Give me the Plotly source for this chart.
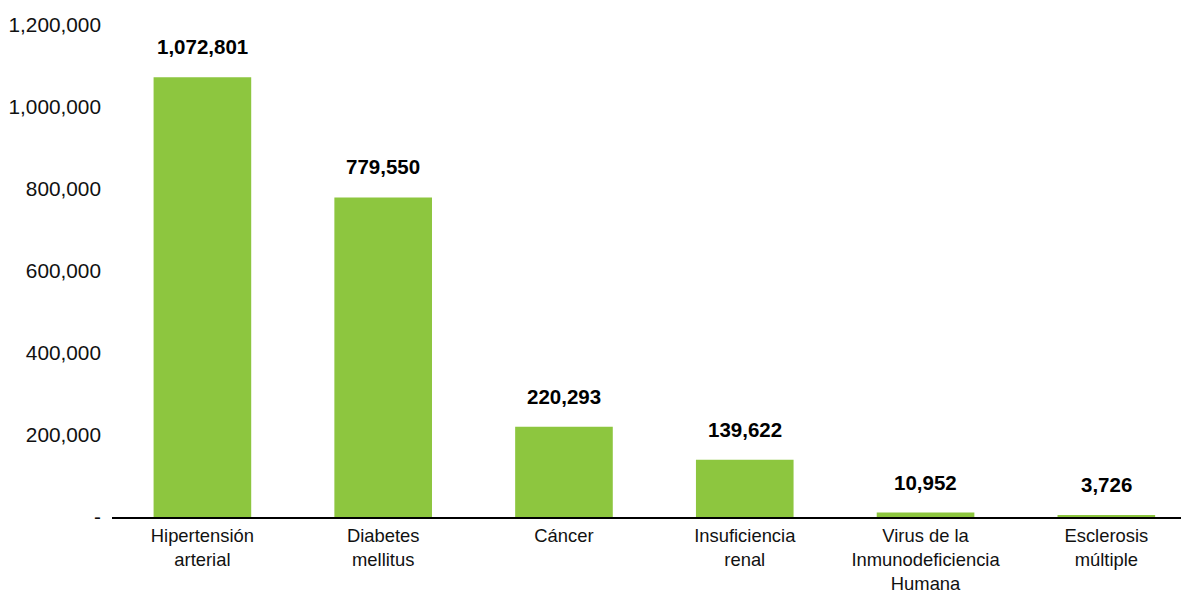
import plotly.graph_objects as go

categorias = ['Hipertensión<br>arterial', 'Diabetes<br>mellitus', 'Cáncer',
              'Insuficiencia<br>renal', 'Virus de la<br>Inmunodeficiencia<br>Humana',
              'Esclerosis<br>múltiple']
casos = [1072801, 779550, 220293, 139622, 10952, 3726]

tick_vals = [0, 200000, 400000, 600000, 800000, 1000000, 1200000]
tick_text = ['-', '200,000', '400,000', '600,000', '800,000', '1,000,000', '1,200,000']

verde = '#8DC63F'
fuente = 'Liberation Sans, Arial, Helvetica, sans-serif'

fig = go.Figure()
fig.add_trace(go.Bar(
    x=categorias, y=casos,
    marker=dict(color=verde, line=dict(width=0)),
    hoverinfo='x+y'
))

for c, v in zip(categorias, casos):
    fig.add_annotation(
        x=c, y=v, text='<b>{:,}</b>'.format(v),
        showarrow=False, yanchor='bottom', yshift=17,
        font=dict(size=20.5, color='black', family=fuente)
    )

fig.update_layout(
    width=1181, height=592,
    margin=dict(l=112, r=0, t=25, b=75),
    paper_bgcolor='white', plot_bgcolor='white',
    bargap=0.46,
    showlegend=False,
    font=dict(family=fuente, size=19, color='black'),
    xaxis=dict(
        range=[-0.5, 5.413], automargin=False,
        showline=True, linecolor='black', linewidth=1.5,
        showgrid=False, ticks='', tickfont=dict(size=18.4, color='#111'),
        ticklabelstandoff=1
    ),
    yaxis=dict(
        range=[0, 1200000], automargin=False,
        tickvals=tick_vals, ticktext=tick_text,
        showgrid=False, zeroline=False, showline=False, ticks='',
        tickfont=dict(size=20.8, color='#111'),
        ticklabelstandoff=10
    )
)

# quitar el margen del body para que la figura ocupe la ventana exacta
fig.write_html("out.html", config={'displayModeBar': False},
               post_script="document.body.style.margin='0';")
